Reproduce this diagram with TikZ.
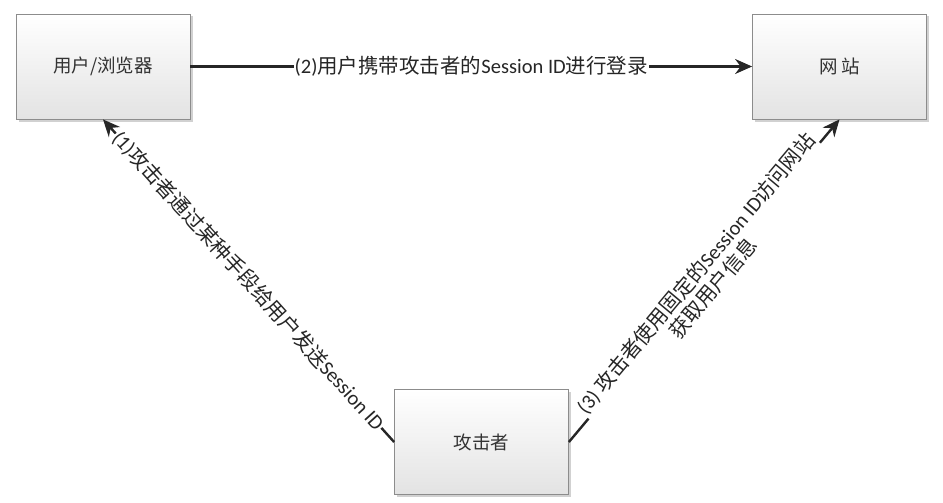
\documentclass[tikz,border=0pt]{standalone}
\usepackage{fontspec}
\setmainfont{Carlito}
\newfontfamily\cjk{Noto Sans CJK SC}
\usetikzlibrary{arrows.meta,shadows}
\begin{document}
\begin{tikzpicture}[x=1pt,y=-1pt,
  box/.style={draw=black!45, line width=0.8pt, top color=white, bottom color=black!11,
    minimum width=174pt, minimum height=105pt, inner sep=0pt,
    drop shadow={shadow xshift=2.5pt, shadow yshift=-2.5pt, fill=black!30, opacity=0.6},
    font=\fontsize{18.5}{22}\selectfont\cjk, text=black!80},
  conn/.style={draw=black!85, line width=2.4pt, -{Stealth[length=17pt,width=15pt]}},
  lbl/.style={fill=white, inner sep=1pt, font=\fontsize{20.5}{23}\selectfont, text=black!85}]
\useasboundingbox (0,0) rectangle (943,503);
\node[box] (user) at (103,66.5) {用户/浏览器};
\node[box] (site) at (839.5,66.5) {网\,站};
\node[box] (att) at (481.5,442) {攻击者};
\draw[conn] (user.east) -- node[lbl]{(2){\cjk 用户携带攻击者的}Session ID{\cjk 进行登录}} (site.west);
\draw[conn] (att.west) -- node[lbl, sloped]{(1){\cjk 攻击者通过某种手段给用户发送}Session ID} (user.south);
\draw[conn] (att.east) -- node[lbl, sloped, align=center, inner sep=1pt]{(3) {\cjk 攻击者使用固定的}Session ID{\cjk 访问网站}\\{\cjk 获取用户信息}} (site.south);
\end{tikzpicture}
\end{document}
